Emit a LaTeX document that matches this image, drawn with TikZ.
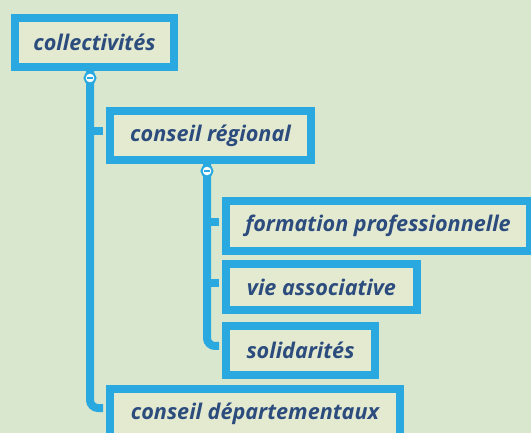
\documentclass[tikz,border=0pt]{standalone}
\usepackage{fontspec}
\setmainfont{Open Sans}
\definecolor{bg}{HTML}{D8E7CD}
\definecolor{boxfill}{HTML}{E3EAD0}
\definecolor{edge}{HTML}{2AA9E1}
\definecolor{inedge}{HTML}{8FD6F0}
\definecolor{txt}{HTML}{2C4C7E}
\begin{document}
\begin{tikzpicture}[x=1pt,y=-1pt,
  topic/.style={draw=edge, line width=8pt, fill=boxfill, text=txt,
    font=\fontsize{21.6}{25}\selectfont\bfseries\itshape, anchor=north west,
    inner sep=0pt, align=center},
  link/.style={draw=edge, line width=8pt, rounded corners=8pt},
  toggle/.style={circle, draw=edge, line width=2pt, fill=white, minimum size=11pt, inner sep=0pt}
]
\fill[bg] (0,0) rectangle (531,433);
\useasboundingbox (0,0) rectangle (531,433);
% links
\draw[link] (90,66) -- (90,408) -- (103,408);
\draw[link] (90,131) -- (103,131);
\draw[link] (207,158) -- (207,346) -- (219,346);
\draw[link] (207,222) -- (219,222);
\draw[link] (207,283) -- (219,283);
% boxes
\node[topic, minimum width=159pt, minimum height=49pt] (c) at (11,14) {collectivités};
\node[topic, minimum width=201pt, minimum height=49pt] (r) at (106,107) {conseil régional};
\node[topic, minimum width=304pt, minimum height=50pt] (f) at (222,197) {formation professionnelle};
\node[topic, minimum width=191pt, minimum height=46pt] (v) at (222,260) {vie associative};
\node[topic, minimum width=149pt, minimum height=49pt] (s) at (222,322) {solidarités};
\node[topic, minimum width=290pt, minimum height=49pt] (d) at (106,385) {conseil départementaux};
% toggles
\node[toggle] (t1) at (90,78) {};
\draw[edge, line width=1.5pt] (87,78) -- (93,78);
\node[toggle] (t2) at (207,171) {};
\draw[edge, line width=1.5pt] (204,171) -- (210,171);
\end{tikzpicture}
\end{document}
